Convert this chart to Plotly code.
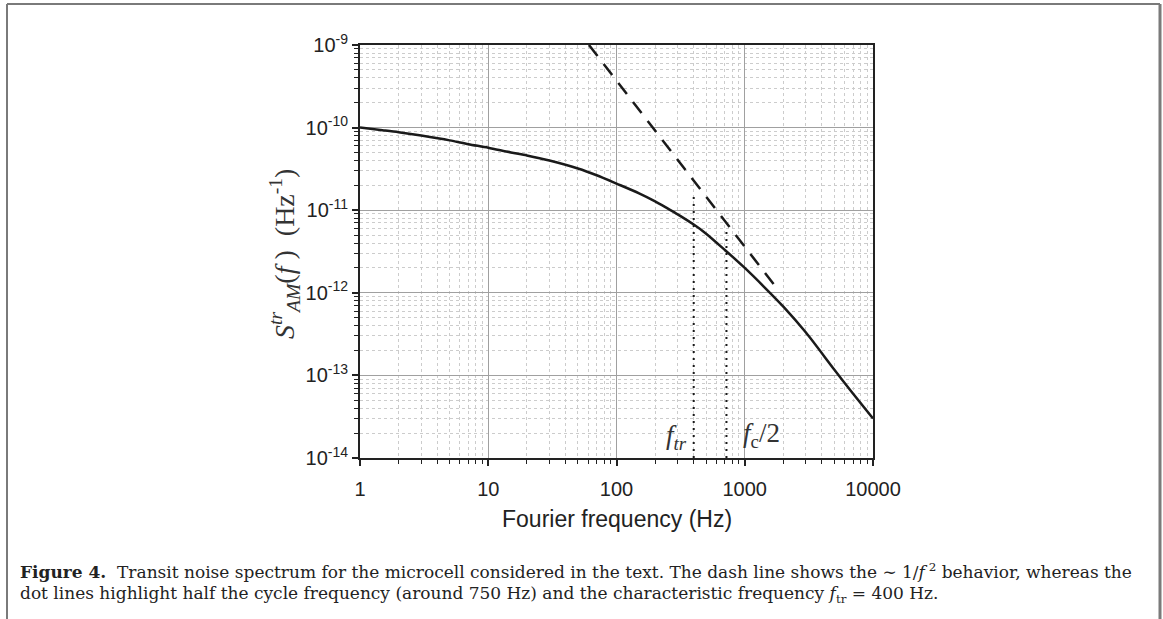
import plotly.graph_objects as go

# ---- data ----
freq = [1, 1.5, 2, 3, 5, 7, 10, 15, 20, 30, 50, 70, 100, 150, 200, 250, 300,
        400, 500, 700, 1000, 1400, 2000, 3000, 5000, 7000, 10000]
s_tr = [1.0e-10, 9.3e-11, 8.8e-11, 8.0e-11, 7.0e-11, 6.3e-11, 5.7e-11, 5.0e-11,
        4.6e-11, 4.0e-11, 3.2e-11, 2.65e-11, 2.1e-11, 1.6e-11, 1.28e-11, 1.05e-11,
        8.9e-12, 6.7e-12, 5.2e-12, 3.3e-12, 2.0e-12, 1.2e-12, 6.8e-13, 3.3e-13,
        1.17e-13, 6.0e-14, 3.0e-14]
dash_f = [61, 1850]
dash_s = [1.0e-9, 1.05e-12]
dot_f = [400, 720]
dot_top = [1.45e-11, 5.5e-12]
y_floor = 1e-14
xtick_vals = [1, 10, 100, 1000, 10000]
xtick_text = ["1", "10", "100", "1000", "10000"]
ytick_vals = [1e-14, 1e-13, 1e-12, 1e-11, 1e-10, 1e-9]
ytick_text = ["10<sup>-14</sup>", "10<sup>-13</sup>", "10<sup>-12</sup>",
              "10<sup>-11</sup>", "10<sup>-10</sup>", "10<sup>-9</sup>"]

W, H = 1163, 619
L, R, T, B = 360, 873, 45, 458


def px(x):
    return (x - L) / (R - L)


def py(y):
    return (B - y) / (B - T)


fig = go.Figure()
fig.add_trace(go.Scatter(x=freq, y=s_tr, mode="lines",
                         line=dict(color="#1a1a1a", width=2.5, shape="spline", smoothing=0.8),
                         showlegend=False))
fig.add_trace(go.Scatter(x=dash_f, y=dash_s, mode="lines",
                         line=dict(color="#1a1a1a", width=2.5, dash="14px,10px"),
                         showlegend=False))
for f, top in zip(dot_f, dot_top):
    fig.add_trace(go.Scatter(x=[f, f], y=[y_floor, top], mode="lines",
                             line=dict(color="#1a1a1a", width=2, dash="2px,5px"),
                             showlegend=False))

grid_major = "#a0a0a0"
grid_minor = "#cccccc"
axis_common = dict(
    type="log", showline=True, linecolor="#222", linewidth=2, mirror=True,
    ticks="outside", ticklen=6, tickwidth=1.5, tickcolor="#222",
    showgrid=True, gridcolor=grid_major, gridwidth=1,
    tickfont=dict(family="Liberation Sans, Arial", size=20, color="#222"),
    minor=dict(ticks="outside", ticklen=4, tickcolor="#222", tickwidth=1.2,
               showgrid=True, gridcolor=grid_minor, griddash="dot", gridwidth=1,
               dtick="D1"),
    zeroline=False,
)
fig.update_xaxes(range=[0, 4], tickvals=xtick_vals, ticktext=xtick_text,
                 ticklabelstandoff=6, **axis_common)
fig.update_yaxes(range=[-14, -9], tickvals=ytick_vals, ticktext=ytick_text, **axis_common)

serif = "Liberation Serif, Times New Roman, serif"


def note(x, y, text, font, **kw):
    d = dict(x=px(x), y=py(y), xref="paper", yref="paper", showarrow=False,
             xanchor="center", yanchor="middle", text=text, font=font)
    d.update(kw)
    return d


ann = [
    note(617, 519, "Fourier frequency (Hz)",
         dict(family="Liberation Sans, Arial", size=23, color="#222")),
    note(285, 254,
         "<i>S</i><sup><i>tr</i></sup><sub><i>AM</i></sub>(<i>f</i> )  (Hz<sup>-1</sup>)",
         dict(family=serif, size=28, color="#333"), textangle=-90),
    note(676, 437, "<i>f<sub>tr</sub></i>", dict(family=serif, size=27, color="#333")),
    note(761, 435, "<i>f</i><sub>c</sub>/2", dict(family=serif, size=27, color="#333")),
]
cap_font = dict(family="DejaVu Serif, serif", size=17, color="#222")
ann.append(note(18, 571,
                "<b>Figure 4.</b>  Transit noise spectrum for the microcell considered in the text. "
                "The dash line shows the \u223c 1/<i>f</i><sup> 2</sup> behavior, whereas the",
                cap_font, xanchor="left"))
ann.append(note(18, 594,
                "dot lines highlight half the cycle frequency (around 750 Hz) and the "
                "characteristic frequency <i>f</i><sub>tr</sub> = 400 Hz.",
                cap_font, xanchor="left"))

shapes = [
    dict(type="line", xref="paper", yref="paper", x0=px(7), x1=px(7), y0=py(4), y1=py(619),
         line=dict(color="#7a7a7a", width=2)),
    dict(type="line", xref="paper", yref="paper", x0=px(7), x1=px(1160), y0=py(4), y1=py(4),
         line=dict(color="#7a7a7a", width=2)),
    dict(type="line", xref="paper", yref="paper", x0=px(1160), x1=px(1160), y0=py(4), y1=py(619),
         line=dict(color="#7a7a7a", width=3)),
]

fig.update_layout(width=W, height=H, margin=dict(l=L, r=W - R, t=T, b=H - B),
                  paper_bgcolor="white", plot_bgcolor="white",
                  annotations=ann, shapes=shapes, showlegend=False)
fig.write_html("out.html", config={"displayModeBar": False},
               post_script="document.body.style.margin='0';document.body.style.overflow='hidden';")
